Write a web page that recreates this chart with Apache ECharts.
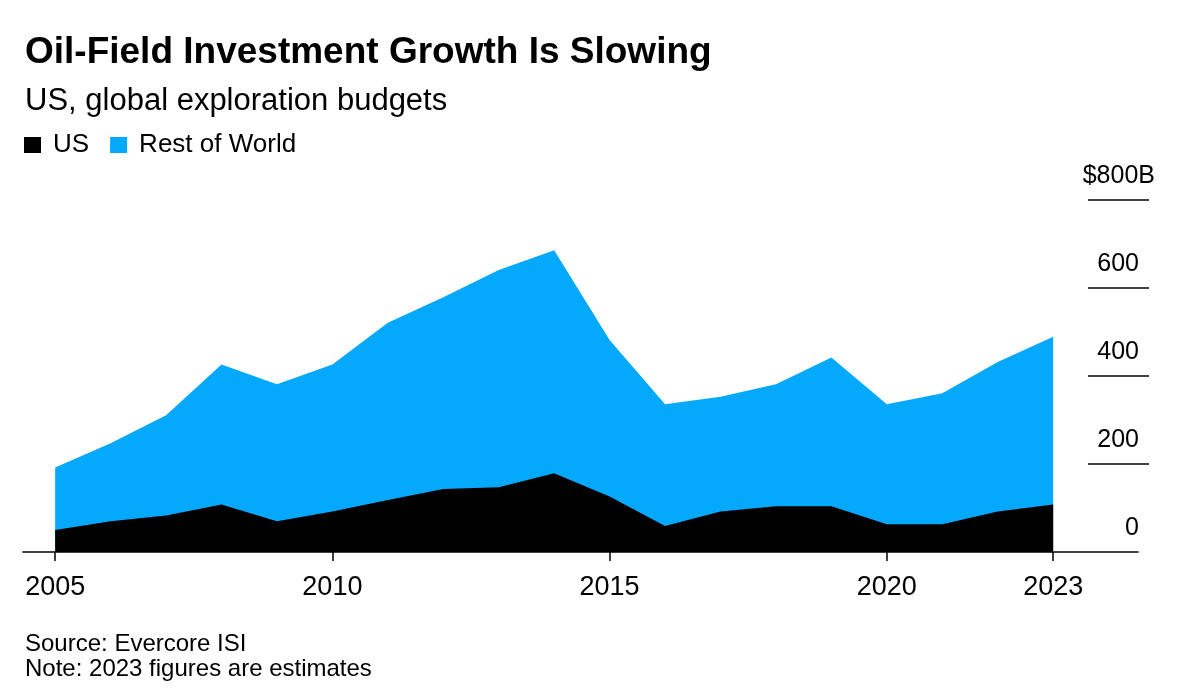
<!DOCTYPE html>
<html>
<head>
<meta charset="utf-8">
<script src="https://cdn.jsdelivr.net/npm/echarts@6/dist/echarts.min.js"></script>
<style>
html,body{margin:0;padding:0;background:#fff;}
#chart{width:1200px;height:697px;}
</style>
</head>
<body>
<div id="chart"></div>
<script>
const years = [2005,2006,2007,2008,2009,2010,2011,2012,2013,2014,2015,2016,2017,2018,2019,2020,2021,2022,2023];
const usValues = [50,70,83,108,70,92,118,143,147,179,126,59,92,104,104,63,63,92,108];
const restOfWorldValues = [142,177,228,318,311,334,403,436,494,507,356,277,261,277,338,273,298,340,381];
const xTickYears = [2005,2010,2015,2020,2023];
const yTickValues = [200,400,600,800];

const FONT = "'Liberation Sans', Arial, Helvetica, sans-serif";
const chart = echarts.init(document.getElementById('chart'), null, {renderer:'canvas'});

const bWidth = 16; // width of the trailing "B" in "$800B"
const BLUE = '#04a9fd';

chart.setOption({
  backgroundColor: '#fff',
  animation: false,
  title: [
    { text: 'Oil-Field Investment Growth Is Slowing', left: 20, top: 29,
      textStyle: { fontFamily: FONT, fontSize: 37, fontWeight: 'bold', color: '#000' } },
    { text: 'US, global exploration budgets', left: 20, top: 81,
      textStyle: { fontFamily: FONT, fontSize: 31, fontWeight: 'normal', color: '#000' } },
    { text: 'Source: Evercore ISI', left: 20, top: 627,
      textStyle: { fontFamily: FONT, fontSize: 24, fontWeight: 'normal', color: '#000' } },
    { text: 'Note: 2023 figures are estimates', left: 20, top: 652,
      textStyle: { fontFamily: FONT, fontSize: 24, fontWeight: 'normal', color: '#000' } }
  ],
  legend: {
    left: 19, top: 127,
    icon: 'rect', itemWidth: 17, itemHeight: 16, itemGap: 21,
    textStyle: { fontFamily: FONT, fontSize: 26, color: '#000', padding: [0,0,0,7] },
    data: ['US', 'Rest of World']
  },
  grid: { left: 23, right: 62, top: 200, bottom: 145, containLabel: false },
  xAxis: {
    type: 'value', min: 2004.42, max: 2024.53,
    axisLine: { show: true, lineStyle: { color: '#000', width: 1.5 } },
    axisTick: { show: true, customValues: xTickYears, length: 9, lineStyle: { color: '#000', width: 1.5 } },
    axisLabel: { customValues: xTickYears, margin: 22, fontFamily: FONT, fontSize: 27, color: '#000',
      formatter: v => String(v) },
    splitLine: { show: false }
  },
  yAxis: {
    type: 'value', position: 'right', offset: -50, min: 0, max: 800, interval: 200,
    axisLine: { show: false },
    axisTick: { show: true, customValues: yTickValues, length: 61, lineStyle: { color: '#000', width: 1.5 } },
    splitLine: { show: false },
    axisLabel: {
      margin: 51 + bWidth, align: 'right', verticalAlign: 'bottom', padding: [0,0,11,0],
      fontFamily: FONT, fontSize: 25, color: '#000',
      formatter: v => v === 800 ? '$800B' : v + '{s| }',
      rich: { s: { width: bWidth, fontFamily: FONT, fontSize: 25 } }
    }
  },
  series: [
    { name: 'Rest of World', type: 'line', symbol: 'none', z: 2,
      lineStyle: { width: 0 }, areaStyle: { color: BLUE, opacity: 1 }, itemStyle: { color: BLUE },
      data: years.map((y, i) => [y, usValues[i] + restOfWorldValues[i]]) },
    { name: 'US', type: 'line', symbol: 'none', z: 3,
      lineStyle: { width: 0 }, areaStyle: { color: '#000', opacity: 1 }, itemStyle: { color: '#000' },
      data: years.map((y, i) => [y, usValues[i]]) }
  ]
});
</script>
</body>
</html>
